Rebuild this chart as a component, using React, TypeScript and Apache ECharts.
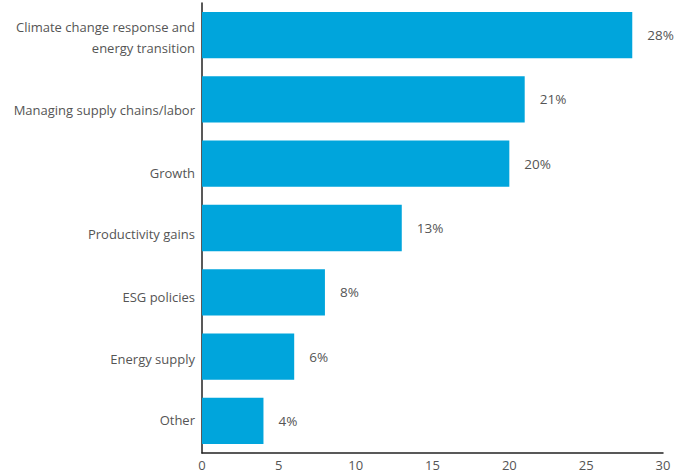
import React, { useEffect, useRef } from "react";
import * as echarts from "echarts";

const categories = [
  "Climate change response and\nenergy transition",
  "Managing supply chains/labor",
  "Growth",
  "Productivity gains",
  "ESG policies",
  "Energy supply",
  "Other",
];
const values = [28, 21, 20, 13, 8, 6, 4];
const xTicks = [0, 5, 10, 15, 20, 25, 30];
// vertical offset (px) of each category label relative to its bar centre, as drawn in the reference
const labelShift = [2, 11, 9, 6, 5, 2, -1];

export default function App() {
  const ref = useRef<HTMLDivElement>(null);
  useEffect(() => {
    const chart = echarts.init(ref.current!, null, { renderer: "svg" });
    const font = "'Open Sans', 'Liberation Sans', Arial, sans-serif";
    chart.setOption({
      animation: false,
      grid: { left: 202, right: 26, top: 3, bottom: 21, containLabel: false },
      xAxis: {
        type: "value",
        min: xTicks[0],
        max: xTicks[xTicks.length - 1],
        interval: 5,
        axisLine: { show: true, lineStyle: { color: "#222", width: 1.5 } },
        axisTick: { show: false },
        splitLine: { show: false },
        axisLabel: {
          color: "#555",
          fontSize: 13,
          fontFamily: font,
          margin: 5,
          lineHeight: 14,
        },
      },
      yAxis: {
        type: "category",
        inverse: true,
        data: categories,
        axisLine: { show: true, lineStyle: { color: "#222", width: 1.5 } },
        axisTick: { show: false },
        axisLabel: { show: false },
      },
      series: [
        {
          type: "bar",
          data: values,
          barWidth: "72%",
          itemStyle: { color: "#00a5dc" },
          label: {
            show: true,
            position: "right",
            distance: 15,
            formatter: "{c}%",
            color: "#555",
            fontSize: 13.5,
            fontFamily: font,
          },
        },
        {
          type: "bar",
          barGap: "-100%",
          barWidth: "72%",
          silent: true,
          itemStyle: { color: "transparent" },
          data: categories.map((c, i) => ({
            value: 0,
            label: { offset: [0, labelShift[i]] },
          })),
          label: {
            show: true,
            position: "left",
            distance: 7,
            formatter: (p: any) => p.name,
            color: "#555",
            fontSize: 13,
            fontFamily: font,
            lineHeight: 21,
            align: "right",
          },
        },
      ],
    });
    return () => chart.dispose();
  }, []);
  return <div ref={ref} style={{ width: 689, height: 474, position: "absolute", left: 0, top: 0 }} />;
}
